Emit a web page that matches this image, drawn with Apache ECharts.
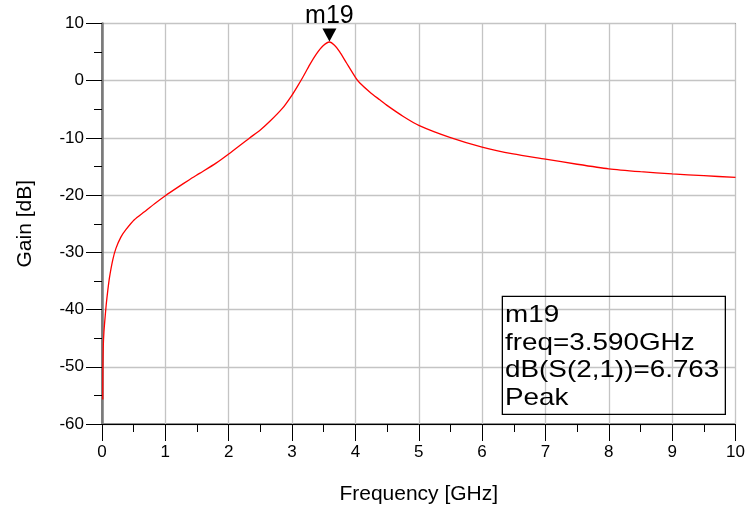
<!DOCTYPE html>
<html>
<head>
<meta charset="utf-8">
<script src="https://cdn.jsdelivr.net/npm/echarts@6/dist/echarts.min.js"></script>
<style>
html,body{margin:0;padding:0;background:#fff;}
#main{width:750px;height:519px;}
</style>
</head>
<body>
<div id="main"></div>
<script>
var freqGHz = [0.012, 0.014, 0.02, 0.03, 0.04, 0.066, 0.092, 0.118, 0.17, 0.22, 0.30, 0.38, 0.51, 0.67, 0.83, 1.0, 1.2, 1.38, 1.54, 1.8, 2.0, 2.33, 2.49, 2.65, 2.85, 3.0, 3.09, 3.17, 3.28, 3.38, 3.49, 3.59, 3.67, 3.75, 3.86, 4.0, 4.07, 4.23, 4.38, 4.51, 4.75, 5.0, 5.49, 6.0, 6.49, 7.0, 7.5, 8.0, 8.5, 9.0, 9.5, 10.0];
var gainDB = [-55.7, -50, -46.4, -44.0, -42.5, -39.2, -36.6, -34.4, -31.3, -29.3, -27.3, -26.0, -24.3, -22.9, -21.5, -20.1, -18.6, -17.3, -16.2, -14.4, -12.8, -10.0, -8.7, -7.1, -4.8, -2.5, -0.9, 0.6, 2.8, 4.6, 6.1, 6.763, 6.2, 5.1, 3.1, 0.6, -0.4, -2.0, -3.3, -4.4, -6.2, -7.8, -9.9, -11.6, -12.8, -13.7, -14.6, -15.4, -15.9, -16.3, -16.6, -16.9];
var xTicks = [0, 10, 1];
var yTicks = [-60, 10, 10];
var markerName = 'm19';
var markerFreq = 3.59;
var markerGain = 6.763;
var markerLines = ['m19', 'freq=3.590GHz', 'dB(S(2,1))=6.763', 'Peak'];
var xTitle = 'Frequency [GHz]';
var yTitle = 'Gain [dB]';

var seriesData = freqGHz.map(function (f, i) { return [f, gainDB[i]]; });
var FONT = '"Liberation Sans", Arial, sans-serif';

var chart = echarts.init(document.getElementById('main'), null, {renderer: 'canvas'});
chart.setOption({
  animation: false,
  backgroundColor: '#ffffff',
  grid: {
    left: 102, top: 23.5, right: 14.5, bottom: 95,
    show: true, borderColor: '#000', borderWidth: 1, backgroundColor: 'transparent'
  },
  xAxis: {
    type: 'value',
    min: xTicks[0], max: xTicks[1], interval: xTicks[2],
    name: xTitle, nameLocation: 'middle', nameGap: 60,
    nameTextStyle: {fontFamily: FONT, fontSize: 21, color: '#000'},
    axisLine: {show: true, onZero: false, lineStyle: {color: '#000', width: 1}},
    axisTick: {show: true, inside: false, length: 17, lineStyle: {color: '#000', width: 1}},
    minorTick: {show: true, splitNumber: 2, length: 8, lineStyle: {color: '#000', width: 1}},
    splitLine: {show: true, lineStyle: {color: '#c4c4c4', width: 1.3}},
    axisLabel: {fontFamily: FONT, fontSize: 17, color: '#000', margin: 20}
  },
  yAxis: {
    type: 'value',
    min: yTicks[0], max: yTicks[1], interval: yTicks[2],
    name: yTitle, nameLocation: 'middle', nameGap: 66,
    nameTextStyle: {fontFamily: FONT, fontSize: 21, color: '#000'},
    axisLine: {show: true, onZero: false, lineStyle: {color: '#7a7a7a', width: 2.5}},
    axisTick: {show: true, inside: false, length: 16, lineStyle: {color: '#000', width: 1}},
    minorTick: {show: true, splitNumber: 2, length: 8, lineStyle: {color: '#000', width: 1}},
    splitLine: {show: true, lineStyle: {color: '#c4c4c4', width: 1.3}},
    axisLabel: {fontFamily: FONT, fontSize: 17, color: '#000', margin: 18}
  },
  series: [{
    type: 'line',
    data: seriesData,
    showSymbol: false,
    smooth: 0.25,
    lineStyle: {color: '#ff0000', width: 1.3},
    markPoint: {
      symbol: 'triangle',
      symbolSize: [14, 13],
      symbolRotate: 180,
      symbolOffset: [0, -7],
      itemStyle: {color: '#000'},
      label: {
        show: true, position: 'top', distance: 0,
        formatter: markerName,
        fontFamily: FONT, fontSize: 25, color: '#000'
      },
      data: [{coord: [markerFreq, markerGain]}]
    }
  }],
  graphic: [
    {
      type: 'rect',
      right: 24, bottom: 104,
      shape: {width: 223, height: 118},
      style: {fill: 'transparent', stroke: '#000', lineWidth: 1.3},
      z: 100
    },
    {
      type: 'text',
      left: 505, top: 302,
      scaleX: 1.16,
      style: {
        text: markerLines.join('\n'),
        font: '24px ' + FONT,
        lineHeight: 27.4,
        fill: '#000'
      },
      z: 101
    }
  ]
});
</script>
</body>
</html>
